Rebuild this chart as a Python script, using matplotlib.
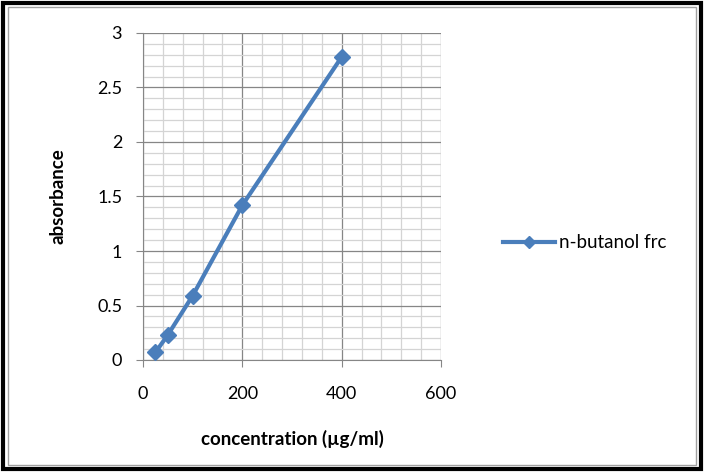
import matplotlib
matplotlib.use("Agg")
import matplotlib.pyplot as plt
from matplotlib.patches import Rectangle
from matplotlib.ticker import MultipleLocator

concentration = [25, 50, 100, 200, 400]
absorbance = [0.07, 0.23, 0.59, 1.42, 2.78]
series_name = "n-butanol frc"
x_ticks = [0, 200, 400, 600]
y_ticks = [0, 0.5, 1, 1.5, 2, 2.5, 3]
y_tick_labels = ["0", "0.5", "1", "1.5", "2", "2.5", "3"]

plt.rcParams['font.family'] = ['Lato', 'DejaVu Sans']

fig = plt.figure(figsize=(7.04, 4.72), dpi=100)
ax = fig.add_axes([143/704, 1-360/472, (441-143)/704, (360-33)/472])

ax.plot(concentration, absorbance, color='#4a7ebb', lw=3, marker='D', ms=8,
        label=series_name, zorder=3, clip_on=False)

ax.set_xlim(0, 600)
ax.set_ylim(0, 3)
ax.set_xticks(x_ticks)
ax.set_yticks(y_ticks)
ax.set_yticklabels(y_tick_labels)
ax.xaxis.set_minor_locator(MultipleLocator(40))
ax.yaxis.set_minor_locator(MultipleLocator(0.1))
ax.grid(which='major', color='#868686', lw=0.9)
ax.grid(which='minor', color='#d4d4d4', lw=0.9)
ax.set_axisbelow(True)
for s in ['top', 'right']:
    ax.spines[s].set_visible(False)
for s in ['left', 'bottom']:
    ax.spines[s].set_color('#868686')
ax.tick_params(which='major', length=5, color='#868686', labelsize=13, colors='black')
ax.tick_params(axis='y', which='major', pad=10)
ax.tick_params(axis='x', which='major', pad=14)
ax.tick_params(which='minor', length=0)
ax.tick_params(axis='x', which='major', direction='out')
ax.tick_params(axis='y', which='major', direction='out')

ax.set_xlabel("concentration (µg/ml)", fontsize=13.5, fontweight='bold', labelpad=20)
ax.set_ylabel("absorbance", fontsize=13.5, fontweight='bold', labelpad=22)

fig.legend(*ax.get_legend_handles_labels(), loc='center left',
           bbox_to_anchor=(486/704, 1-243/472), frameon=False,
           fontsize=13.5, handlelength=2.8, handletextpad=0.2, markerscale=0.8)

# figure border
fig.patches.append(Rectangle((0.004, 0.006), 0.992, 0.988, transform=fig.transFigure,
                             fill=False, ec='black', lw=3))
fig.patches.append(Rectangle((0.011, 0.014), 0.978, 0.972, transform=fig.transFigure,
                             fill=False, ec='#a0a0a0', lw=1))

fig.savefig("out.png", dpi=100)
